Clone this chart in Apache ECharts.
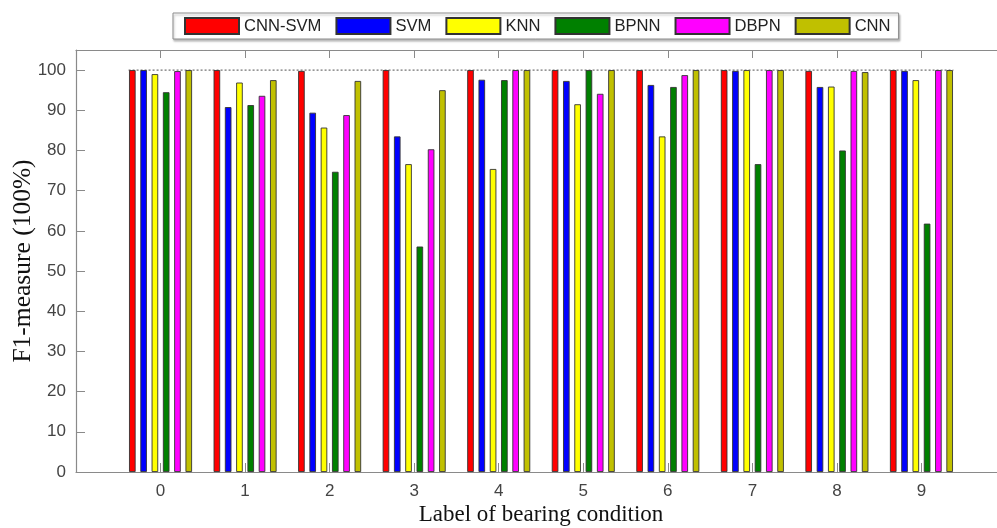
<!DOCTYPE html>
<html>
<head>
<meta charset="utf-8">
<script src="https://cdn.jsdelivr.net/npm/echarts@6/dist/echarts.min.js"></script>
<style>html,body{margin:0;padding:0;background:#fff;}#c{width:997px;height:528px;}</style>
</head>
<body>
<div id="c"></div>
<script>
// ---- data ----
const categories = ['0','1','2','3','4','5','6','7','8','9'];
const seriesNames = ['CNN-SVM','SVM','KNN','BPNN','DBPN','CNN'];
const cnnSvm = [100, 100, 99.8, 100, 100, 100, 100, 100, 99.8, 100];
const svm    = [100, 90.8, 89.4, 83.5, 97.6, 97.3, 96.3, 99.8, 95.8, 99.8];
const knn    = [99.0, 96.9, 85.7, 76.6, 75.4, 91.5, 83.5, 100, 95.9, 97.5];
const bpnn   = [94.5, 91.3, 74.7, 56.1, 97.5, 100, 95.8, 76.6, 80.0, 61.8];
const dbpn   = [99.75, 93.6, 88.8, 80.3, 100, 94.1, 98.75, 100, 99.8, 100];
const cnn    = [100, 97.5, 97.3, 95.0, 100, 100, 100, 100, 99.5, 100];
const yTicks = [0,10,20,30,40,50,60,70,80,90,100];
const refValue = 100;

// ---- styling ----
const colors = ['#ff0000','#0000ff','#ffff00','#008000','#ff00ff','#c0c000'];
const allSeries = [cnnSvm, svm, knn, bpnn, dbpn, cnn];
const BAR_W = 6.6, BAR_GAP = 0.71, BORDER = 0.9;
const axisGray = '#8a8a8a';

// pad categories so that axis spans -1 .. 10
const xCats = [''].concat(categories, ['']);
const pad = arr => ['-'].concat(arr, ['-']);

const chart = echarts.init(document.getElementById('c'));
const option = {
  animation: false,
  backgroundColor: '#fff',
  legend: {
    left: 173, top: 13,
    padding: [4, 8, 4, 11],
    itemGap: 14,
    itemWidth: 54, itemHeight: 16,
    borderColor: '#8c8c8c', borderWidth: 1,
    backgroundColor: '#fff',
    shadowColor: 'rgba(0,0,0,0.25)', shadowOffsetX: 1, shadowOffsetY: 2, shadowBlur: 2,
    textStyle: { fontFamily: 'Liberation Sans, Arial', fontSize: 16.6, color: '#222' },
    data: seriesNames,
    icon: 'rect'
  },
  grid: { left: 76, top: 50, width: 930, bottom: 56, containLabel: false, outerBoundsMode: 'none' },
  xAxis: [{
    type: 'category', data: xCats, boundaryGap: false, position: 'bottom',
    name: 'Label of bearing condition', nameLocation: 'middle', nameGap: 31,
    nameMoveOverlap: false,
    nameTextStyle: { fontFamily: 'Liberation Serif, Times New Roman', fontSize: 23, color: '#111' },
    axisLine: { lineStyle: { color: axisGray, width: 1.2 } },
    axisTick: { inside: true, length: 9, lineStyle: { color: axisGray }, alignWithLabel: true },
    axisLabel: { fontFamily: 'Liberation Sans, Arial', fontSize: 17, color: '#444', margin: 11, interval: 0 },
    splitLine: { show: false }
  }, {
    type: 'category', data: xCats, boundaryGap: false, position: 'top',
    axisLine: { lineStyle: { color: axisGray, width: 1.2 } },
    axisTick: { inside: true, length: 8, lineStyle: { color: axisGray } },
    axisLabel: { show: false },
    splitLine: { show: false }
  }],
  yAxis: {
    type: 'value', min: 0, max: 105, interval: 10,
    name: 'F1-measure (100%)', nameLocation: 'middle', nameGap: 40,
    nameMoveOverlap: false,
    nameTextStyle: { fontFamily: 'Liberation Serif, Times New Roman', fontSize: 25.5, color: '#111' },
    axisLine: { show: true, lineStyle: { color: axisGray, width: 1.2 } },
    axisTick: { show: true, inside: true, length: 9, lineStyle: { color: axisGray } },
    axisLabel: {
      fontFamily: 'Liberation Sans, Arial', fontSize: 17, color: '#444', margin: 10,
      showMaxLabel: false,
      formatter: v => (yTicks.indexOf(v) >= 0 ? String(v) : '')
    },
    splitLine: { show: false }
  },
  series: allSeries.map((arr, i) => ({
    name: seriesNames[i],
    type: 'bar',
    data: pad(arr),
    barWidth: BAR_W,
    barGap: (BAR_GAP * 100) + '%',
    itemStyle: { color: colors[i], borderColor: '#333', borderWidth: BORDER },
    z: 3
  }))
};
chart.setOption(option);

// dashed reference line at 100, spanning from first group's left edge to last group's right edge
const pitch = BAR_W * (1 + BAR_GAP);
const half = 2.5 * pitch + (BAR_W + BORDER) / 2;
const pStart = chart.convertToPixel({ xAxisIndex: 0, yAxisIndex: 0 }, [categories[0], refValue]);
const pEnd = chart.convertToPixel({ xAxisIndex: 0, yAxisIndex: 0 }, [categories[categories.length - 1], refValue]);
chart.setOption({
  graphic: [{
    type: 'line', z: 1,
    shape: { x1: pStart[0] - half, y1: pStart[1], x2: pEnd[0] + half, y2: pEnd[1] },
    style: { stroke: '#222', lineWidth: 0.8, lineDash: [2, 2] }
  }]
});
</script>
</body>
</html>
